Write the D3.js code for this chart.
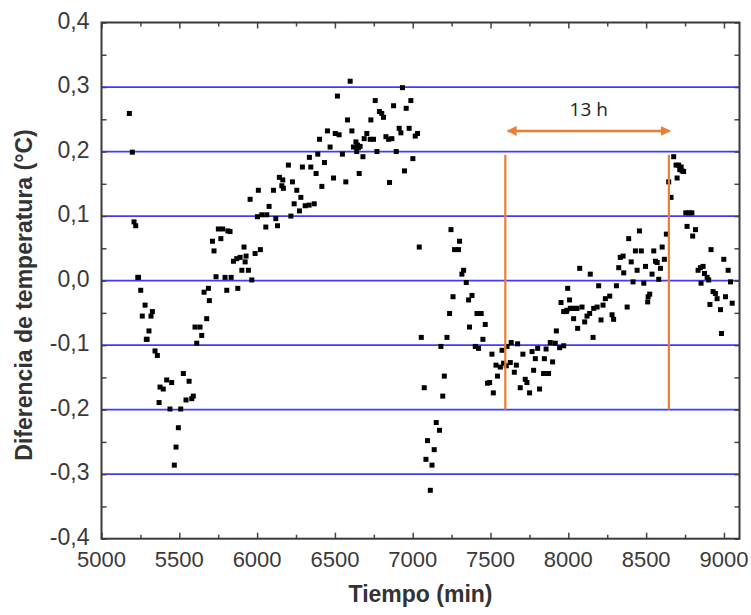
<!DOCTYPE html>
<html>
<head>
<meta charset="utf-8">
<script src="https://cdn.jsdelivr.net/npm/d3@7"></script>
<style>
  html, body { margin: 0; padding: 0; background: #fff; }
  svg { display: block; }
</style>
</head>
<body>
<svg id="chart" width="751" height="615"></svg>
<script>
// ---- Data (Tiempo in min, Diferencia de temperatura in °C) ----
const tiempoA = [5179,5198,5209,5220,5233,5238,5252,5262,5280,5288,5293,5305,5318,5327,5344,5359,5370,5376,5397,5419,5440,5451,5468,5479,5494,5509,5526,5543,5563,5580,5590,5601,5612,5633,5644,5659,5676,5687,5693];
const difA    = [0.259,0.199,0.091,0.085,0.005,0.005,-0.015,-0.055,-0.038,-0.091,-0.091,-0.078,-0.055,-0.048,-0.109,-0.116,-0.189,-0.165,-0.168,-0.154,-0.199,-0.158,-0.286,-0.258,-0.228,-0.199,-0.144,-0.185,-0.156,-0.183,-0.179,-0.072,-0.097,-0.072,-0.085,-0.018,-0.059,-0.012,-0.031];

const tiempoB = [5713,5723,5736,5751,5767,5779,5794,5805,5812,5826,5833,5848,5869,5876,5891,5902,5916,5923,5929,5944,5955,5966,5987,6002,6008,6021,6030,6056,6062,6077,6105];
const difB    = [0.061,0.046,0.006,0.080,0.065,0.080,0.005,-0.015,0.077,0.076,0.005,0.030,0.034,-0.012,0.036,0.016,0.052,0.029,0.038,0.016,0.126,0.001,0.042,0.099,0.140,0.048,0.102,0.083,0.102,0.115,0.140];

const tiempoC = [6120,6131,6143,6159,6165,6169,6201,6217,6227,6238,6255,6272,6281,6291,6309,6334,6336,6345,6367,6379,6390,6401,6416,6433,6452,6469,6491,6502,6516,6527,6548,6570,6581,6598,6609,6619,6635,6640,6645,6651,6656,6662,6680,6688,6705,6727,6731,6748,6759,6770,6786,6801,6812,6828,6845,6851,6866,6877,6894,6913,6924,6934,6947,6958,6977,6988,7001,7016,7031];
const difC    = [0.096,0.085,0.160,0.147,0.156,0.143,0.179,0.100,0.153,0.119,0.140,0.108,0.129,0.176,0.116,0.117,0.191,0.176,0.119,0.166,0.196,0.219,0.146,0.183,0.232,0.207,0.159,0.228,0.286,0.226,0.196,0.153,0.249,0.309,0.232,0.207,0.215,0.200,0.210,0.206,0.166,0.208,0.192,0.220,0.228,0.219,0.249,0.219,0.279,0.200,0.262,0.259,0.253,0.223,0.219,0.152,0.220,0.271,0.200,0.236,0.229,0.299,0.170,0.267,0.236,0.279,0.189,0.224,0.228];

const tiempoD = [7042,7055,7074,7085,7095,7113,7124,7138,7151,7172,7181,7193,7203,7220,7237,7246,7259,7269,7294,7301,7316,7327,7344,7359,7365,7381,7402,7413,7423,7440,7451,7466,7481,7494,7509];
const difD    = [0.052,-0.088,-0.166,-0.277,-0.248,-0.325,-0.286,-0.262,-0.220,-0.232,-0.102,-0.179,-0.148,-0.088,-0.051,0.079,-0.025,0.048,0.048,0.061,0.010,0.016,-0.003,-0.030,-0.072,-0.023,-0.102,-0.051,-0.105,-0.051,-0.091,-0.068,-0.159,-0.158,-0.114];

const tiempoE = [7518,7535,7545,7563,7574,7584,7601,7606,7627,7633,7653,7666,7674,7691,7708,7723,7734,7751,7767,7777,7788,7803,7815,7841,7846,7857,7873,7884,7899,7916,7923,7944,7953,7970,7970,7987,7991,7996,8008,8013,8024,8034,8045,8056,8060,8073,8088];
const difE    = [-0.174,-0.131,-0.148,-0.134,-0.108,-0.128,-0.132,-0.102,-0.127,-0.096,-0.142,-0.131,-0.098,-0.166,-0.114,-0.153,-0.158,-0.174,-0.110,-0.139,-0.121,-0.105,-0.168,-0.144,-0.121,-0.106,-0.144,-0.096,-0.126,-0.097,-0.078,-0.104,-0.034,-0.101,-0.048,-0.048,-0.046,-0.012,-0.030,-0.043,-0.043,-0.059,-0.043,-0.043,-0.074,0.019,-0.041];

const tiempoF = [8105,8120,8137,8141,8159,8163,8185,8195,8210,8223,8238,8266,8281,8291,8309,8324,8334,8352,8356,8378,8388,8404,8416,8431,8442,8457,8469,8485,8496,8510,8513,8523,8538,8549,8560,8571,8581,8592,8603,8617,8630,8645,8660];
const difF    = [-0.064,-0.055,-0.051,0.010,-0.088,-0.043,-0.041,-0.008,-0.061,-0.038,-0.028,-0.024,-0.053,-0.060,-0.008,0.020,0.036,0.038,0.012,-0.041,0.065,0.029,-0.002,0.046,0.016,0.077,0.046,-0.004,0.022,-0.033,-0.025,-0.021,0.010,0.046,0.030,0.028,0.002,0.019,0.052,0.033,0.072,0.153,0.129];

const tiempoG = [8677,8692,8699,8709,8716,8725,8731,8741,8755,8763,8777,8794,8799,8817,8834,8849,8853,8866,8875,8892,8902,8910,8917,8930,8945,8956,8978,8984,8999,9010,9027,9042,9053];
const difG    = [0.192,0.179,0.159,0.179,0.172,0.176,0.170,0.169,0.105,0.084,0.105,0.105,0.069,0.079,0.016,0.020,-0.004,0.022,0.011,0.005,0.001,-0.037,0.048,-0.017,-0.020,-0.028,-0.045,-0.082,0.033,-0.025,0.016,-0.002,-0.035];

const xTicks = [5000,5500,6000,6500,7000,7500,8000,8500,9000];
const yTicks = [-0.4,-0.3,-0.2,-0.1,0.0,0.1,0.2,0.3,0.4];
const gridValues = [-0.3,-0.2,-0.1,0.0,0.1,0.2,0.3];

// annotation (data units)
const markStart = 7595, markEnd = 8646;
const markTop = 0.195, markBottom = -0.2;
const arrowY = 0.232, arrowFrom = 7610, arrowTo = 8652;
const annotationLabel = "13 h";

(function () {
const tiempo = [].concat(tiempoA, tiempoB, tiempoC, tiempoD, tiempoE, tiempoF, tiempoG);
const dif = [].concat(difA, difB, difC, difD, difE, difF, difG);
const points = tiempo.map((t, i) => ({ t, v: dif[i] }));

const svg = d3.select("#chart");
const pl = 101.5, pr = 739.5, pt = 22.5, pb = 538.7;

const x = d3.scaleLinear().domain([5000, 9100]).range([pl, pr]);
const y = d3.scaleLinear().domain([-0.4, 0.4]).range([pb, pt]);

const fmt = d => d3.format(".1f")(d).replace(".", ",").replace("−", "-");

// gridlines
svg.append("g").selectAll("line").data(gridValues).join("line")
  .attr("x1", pl).attr("x2", pr)
  .attr("y1", d => y(d)).attr("y2", d => y(d))
  .attr("stroke", "#3c3cff").attr("stroke-width", 1.8);

// axes with inward ticks
const tickColor = "#444";
const xMinor = d3.range(5000, 9101, 250);
const yMinor = d3.range(-8, 9).map(i => i * 0.05);

const axB = svg.append("g").attr("transform", `translate(0,${pb})`)
  .call(d3.axisBottom(x).tickValues(xMinor).tickSize(0).tickFormat(""));
axB.selectAll(".tick line").attr("y2", d => (d % 500 === 0 ? -6 : -4)).attr("stroke", tickColor).attr("stroke-width", 1.5);
axB.select(".domain").remove();

const axT = svg.append("g").attr("transform", `translate(0,${pt})`)
  .call(d3.axisTop(x).tickValues(xMinor).tickSize(0).tickFormat(""));
axT.selectAll(".tick line").attr("y2", d => (d % 500 === 0 ? 6 : 4)).attr("stroke", tickColor).attr("stroke-width", 1.5);
axT.select(".domain").remove();

const axL = svg.append("g").attr("transform", `translate(${pl},0)`)
  .call(d3.axisLeft(y).tickValues(yMinor).tickSize(0).tickFormat(""));
axL.selectAll(".tick line").attr("x2", 5).attr("stroke", tickColor).attr("stroke-width", 1.5);
axL.select(".domain").remove();

const axR = svg.append("g").attr("transform", `translate(${pr},0)`)
  .call(d3.axisRight(y).tickValues(yMinor).tickSize(0).tickFormat(""));
axR.selectAll(".tick line").attr("x2", -5).attr("stroke", tickColor).attr("stroke-width", 1.5);
axR.select(".domain").remove();

// frame
svg.append("rect").attr("x", pl).attr("y", pt)
  .attr("width", pr - pl).attr("height", pb - pt)
  .attr("fill", "none").attr("stroke", "#3a3a3a").attr("stroke-width", 2);

// tick labels
const labelFont = "'Liberation Sans', Arial, sans-serif";
const labelColor = "#3a3a3a";
svg.append("g").selectAll("text").data(xTicks).join("text")
  .attr("x", d => x(d)).attr("y", pb + 28)
  .attr("text-anchor", "middle")
  .attr("font-family", labelFont).attr("font-size", 22).attr("fill", labelColor)
  .text(d => d);

svg.append("g").selectAll("text").data(yTicks).join("text")
  .attr("x", pl - 12).attr("y", d => y(d) + 6)
  .attr("text-anchor", "end")
  .attr("font-family", labelFont).attr("font-size", 23).attr("fill", labelColor)
  .text(d => fmt(d));

// axis titles
svg.append("text")
  .attr("x", (pl + pr) / 2).attr("y", 602)
  .attr("text-anchor", "middle")
  .attr("font-family", labelFont).attr("font-weight", "bold").attr("font-size", 23)
  .attr("fill", "#333")
  .text("Tiempo (min)");

svg.append("text")
  .attr("transform", `translate(32,295) rotate(-90)`)
  .attr("text-anchor", "middle")
  .attr("font-family", labelFont).attr("font-weight", "bold").attr("font-size", 23)
  .attr("fill", "#333")
  .text("Diferencia de temperatura (°C)");

// data points
svg.append("g").selectAll("rect").data(points).join("rect")
  .attr("x", d => x(d.t) - 2.5).attr("y", d => y(d.v) - 2.5)
  .attr("width", 5).attr("height", 5)
  .attr("fill", "#000");

// annotation
const orange = "#ed7d31";
svg.append("g").selectAll("line").data([markStart, markEnd]).join("line")
  .attr("x1", d => x(d)).attr("x2", d => x(d))
  .attr("y1", y(markTop)).attr("y2", y(markBottom))
  .attr("stroke", orange).attr("stroke-width", 2.2);

const defs = svg.append("defs");
defs.append("marker").attr("id", "ah").attr("viewBox", "0 0 10 10")
  .attr("refX", 9).attr("refY", 5).attr("markerWidth", 10).attr("markerHeight", 10)
  .attr("markerUnits", "userSpaceOnUse").attr("orient", "auto-start-reverse")
  .append("path").attr("d", "M0,0 L10,5 L0,10 Z").attr("fill", orange);

svg.append("line")
  .attr("x1", x(arrowFrom)).attr("x2", x(arrowTo))
  .attr("y1", y(arrowY)).attr("y2", y(arrowY))
  .attr("stroke", orange).attr("stroke-width", 2.5)
  .attr("marker-start", "url(#ah)").attr("marker-end", "url(#ah)");

svg.append("text")
  .attr("x", x((arrowFrom + arrowTo) / 2)).attr("y", y(arrowY) - 15)
  .attr("text-anchor", "middle")
  .attr("font-family", "'Open Sans', 'Liberation Sans', sans-serif").attr("font-size", 19)
  .attr("fill", "#222")
  .text(annotationLabel);
})();
</script>
</body>
</html>
